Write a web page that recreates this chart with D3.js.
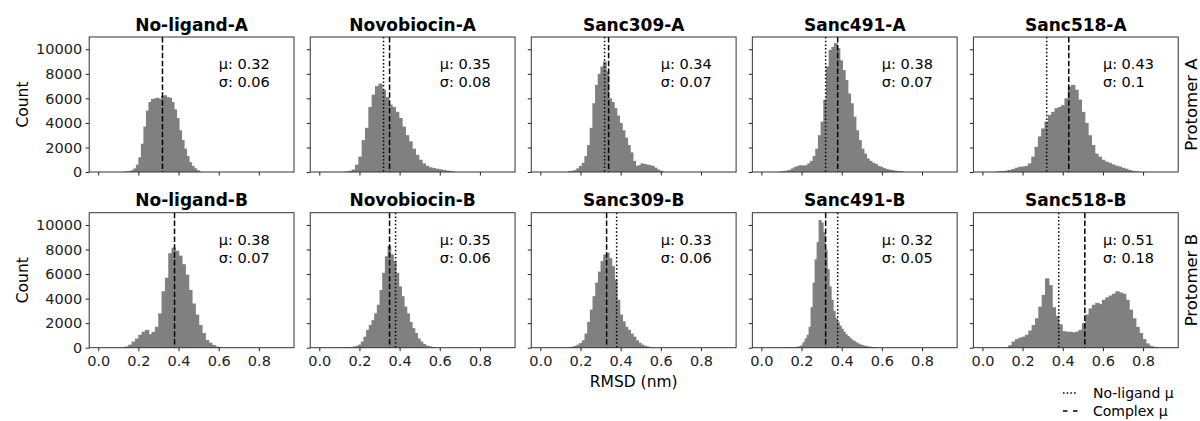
<!DOCTYPE html>
<html lang="en">
<head>
<meta charset="UTF-8">
<title>RMSD histograms</title>
<script src="https://cdnjs.cloudflare.com/ajax/libs/d3/7.8.5/d3.min.js"></script>
<style>
    body { margin: 0; background: #fff; }
    svg { display: block; font-family: "DejaVu Sans", sans-serif; }
</style>
</head>
<body>
<svg id="chart" width="1200" height="421"></svg>
<script>
// systems (columns) and protomers (rows)
const systems = ["No-ligand", "Novobiocin", "Sanc309", "Sanc491", "Sanc518"];
const protomers = ["A", "B"];

// mean / sd shown in each panel
const muA = [0.32, 0.35, 0.34, 0.38, 0.43];
const sigmaA = [0.06, 0.08, 0.07, 0.07, 0.1];
const muB = [0.38, 0.35, 0.33, 0.32, 0.51];
const sigmaB = [0.07, 0.06, 0.06, 0.05, 0.18];

// histogram bins: first edge, bin width, counts
const binStartA = [0.125, 0.128, 0.1395, 0.0817, 0.0612];
const binWidthA = [0.0125, 0.0166, 0.0133, 0.01333, 0.01653];
const binStartB = [0.1162, 0.1133, 0.14, 0.115, 0.1117];
const binWidthB = [0.0166, 0.01333, 0.01333, 0.01, 0.01667];

const noLigandA = [30, 50, 80, 150, 300, 600, 1200, 2300, 3700, 5000, 5700, 5950, 6000, 6050, 5950, 6200, 6250, 6100, 6050, 5700, 5100, 4400, 3400, 2600, 1900, 1300, 800, 500, 300, 150, 50];
const novobiocinA = [50, 100, 200, 600, 1250, 2600, 3600, 5300, 6300, 7000, 7200, 6700, 6100, 5500, 5300, 4900, 4400, 3700, 3000, 2500, 1900, 1400, 1000, 700, 500, 380, 320, 270, 220, 170, 120, 80, 40];
const sanc309A = [80, 100, 150, 300, 500, 750, 1300, 2200, 3600, 5600, 7100, 8000, 8600, 9000, 8200, 6000, 5700, 5200, 4600, 4000, 3400, 2800, 2200, 1600, 900, 500, 550, 700, 650, 600, 550, 500, 350, 200, 100, 50];
const sanc491A = [30, 50, 80, 120, 180, 300, 420, 500, 550, 520, 550, 700, 900, 1300, 1900, 3000, 4100, 5900, 8600, 9950, 10200, 10500, 10100, 9100, 8300, 7500, 6400, 5600, 4500, 3400, 2600, 1900, 1500, 1100, 900, 750, 650, 500, 420, 320, 250, 200, 160, 120, 90, 70, 50];
const sanc518A = [30, 50, 80, 120, 170, 250, 350, 420, 450, 500, 700, 1250, 2050, 2900, 3550, 4100, 4650, 4900, 5200, 5300, 5450, 6000, 6950, 7100, 6700, 5900, 4900, 4000, 3000, 2200, 1500, 1250, 1000, 850, 750, 620, 520, 450, 350, 270, 170, 100, 60, 30];

const noLigandB = [40, 100, 250, 500, 750, 1050, 1300, 1450, 1100, 1300, 1700, 2800, 4600, 5700, 7700, 8150, 7900, 7500, 6800, 5950, 4700, 3600, 2700, 1850, 1200, 630, 410, 220, 100, 40];
const novobiocinB = [30, 40, 50, 60, 100, 150, 250, 500, 900, 1450, 1850, 2250, 2800, 3500, 4700, 6100, 7450, 8300, 7600, 7050, 6100, 5000, 4200, 3350, 2800, 2100, 1600, 1200, 750, 500, 300, 180, 120, 70, 40];
const sanc309B = [50, 80, 150, 250, 380, 600, 1150, 2100, 3100, 4200, 5300, 6200, 7050, 7600, 7750, 7300, 6650, 5550, 3900, 2700, 2150, 1700, 1450, 1150, 900, 600, 400, 250, 150, 100, 50];
const sanc491B = [20, 30, 30, 40, 50, 60, 80, 120, 200, 450, 750, 1050, 1700, 3300, 5300, 7200, 8600, 10400, 10200, 9400, 8000, 6400, 5000, 3900, 3000, 2400, 2100, 1800, 1550, 1300, 1100, 950, 800, 650, 550, 450, 350, 280, 220, 170, 130, 100, 80, 60, 40, 30];
const sanc518B = [50, 200, 500, 700, 820, 900, 1050, 1400, 1850, 2400, 3350, 4300, 5650, 5100, 3300, 2600, 1900, 1350, 1300, 1300, 1250, 1300, 1450, 2000, 2700, 3200, 3500, 3650, 3550, 3900, 4100, 4250, 4400, 4600, 4500, 4400, 3900, 3100, 2400, 1700, 1200, 700, 350, 150, 80, 40];

const xTicks = [0, 0.2, 0.4, 0.6, 0.8];
const yTicks = [0, 2000, 4000, 6000, 8000, 10000];
const legendLabels = ["No-ligand \u03bc", "Complex \u03bc"];

const rows = [
    { mu: muA, sigma: sigmaA, start: binStartA, width: binWidthA, counts: [noLigandA, novobiocinA, sanc309A, sanc491A, sanc518A] },
    { mu: muB, sigma: sigmaB, start: binStartB, width: binWidthB, counts: [noLigandB, novobiocinB, sanc309B, sanc491B, sanc518B] }
];

// layout
const panelLeft = 89.2, panelStep = 221.05, panelW = 204.8, panelH = 135;
const rowTop = [37, 212.7];
const barColor = "#808080";
const spineColor = "#333";

const svg = d3.select("#chart");
const x = d3.scaleLinear().domain([-0.045, 0.975]).range([0, panelW]);
const y = d3.scaleLinear().domain([0, 11000]).range([panelH, 0]);

rows.forEach((row, r) => {
    systems.forEach((sys, c) => {
        const g = svg.append("g")
            .attr("transform", `translate(${panelLeft + c * panelStep},${rowTop[r]})`);

        // bars (overlap a bit so no seams show between neighbours)
        const start = row.start[c], w = row.width[c];
        g.selectAll("rect.bar")
            .data(row.counts[c])
            .join("rect")
            .attr("class", "bar")
            .attr("x", (d, i) => x(start + i * w))
            .attr("width", (d, i) => x(w) - x(0) + (i < row.counts[c].length - 1 ? 1 : 0))
            .attr("y", d => y(d))
            .attr("height", d => panelH - y(d))
            .attr("fill", barColor);

        // no-ligand mean (dotted) and complex mean (dashed)
        if (c > 0) {
            g.append("line")
                .attr("x1", x(row.mu[0])).attr("x2", x(row.mu[0]))
                .attr("y1", 0).attr("y2", panelH)
                .attr("stroke", "#000").attr("stroke-width", 1.5)
                .attr("stroke-dasharray", "1.5,2.2");
        }
        g.append("line")
            .attr("x1", x(row.mu[c])).attr("x2", x(row.mu[c]))
            .attr("y1", 0).attr("y2", panelH)
            .attr("stroke", "#000").attr("stroke-width", 1.5)
            .attr("stroke-dasharray", "5.5,2.4");

        // axes
        const yAxis = d3.axisLeft(y).tickValues(yTicks).tickSize(3.5).tickPadding(3.5)
            .tickFormat(c === 0 ? d3.format("d") : () => "");
        const xAxis = d3.axisBottom(x).tickValues(xTicks).tickSize(3.5).tickPadding(4.5)
            .tickFormat(r === 1 ? d3.format(".1f") : () => "");

        g.append("g").call(yAxis)
            .call(a => a.select(".domain").remove())
            .attr("font-family", null).attr("font-size", 14.5).attr("color", "#222");
        g.append("g").attr("transform", `translate(0,${panelH})`).call(xAxis)
            .call(a => a.select(".domain").remove())
            .attr("font-family", null).attr("font-size", 14.5).attr("color", "#222");

        // frame
        g.append("rect")
            .attr("width", panelW).attr("height", panelH)
            .attr("fill", "none").attr("stroke", spineColor).attr("stroke-width", 1);

        // title
        g.append("text")
            .attr("x", panelW / 2).attr("y", -6.5)
            .attr("text-anchor", "middle")
            .attr("font-size", 17).attr("font-weight", "bold")
            .text(`${sys}-${protomers[r]}`);

        // stats
        g.append("text").attr("x", 129.5).attr("y", 32)
            .attr("font-size", 14.5).text(`\u03bc: ${row.mu[c]}`);
        g.append("text").attr("x", 129.5).attr("y", 50)
            .attr("font-size", 14.5).text(`\u03c3: ${row.sigma[c]}`);
    });

    // row labels
    const midY = rowTop[r] + panelH / 2;
    svg.append("text")
        .attr("transform", `translate(28,${midY}) rotate(-90)`)
        .attr("text-anchor", "middle").attr("font-size", 15.5)
        .text("Count");
    svg.append("text")
        .attr("transform", `translate(1196.5,${midY}) rotate(-90)`)
        .attr("text-anchor", "middle").attr("font-size", 16.5)
        .text(`Protomer ${protomers[r]}`);
});

// x label under the middle column
svg.append("text")
    .attr("x", panelLeft + 2 * panelStep + panelW / 2).attr("y", 387)
    .attr("text-anchor", "middle").attr("font-size", 15.5)
    .text("RMSD (nm)");

// legend
const legend = svg.append("g").attr("transform", "translate(1063,393)");
const legendDash = ["1.5,2.2", "4.5,5.5"];
legendLabels.forEach((lab, i) => {
    legend.append("line")
        .attr("x1", 0).attr("x2", i === 0 ? 13 : 14.5)
        .attr("y1", i * 18).attr("y2", i * 18)
        .attr("stroke", "#000").attr("stroke-width", 1.5)
        .attr("stroke-dasharray", legendDash[i]);
    legend.append("text")
        .attr("x", 30).attr("y", i * 18 + 4.5)
        .attr("font-size", 14)
        .text(lab);
});
</script>
</body>
</html>
